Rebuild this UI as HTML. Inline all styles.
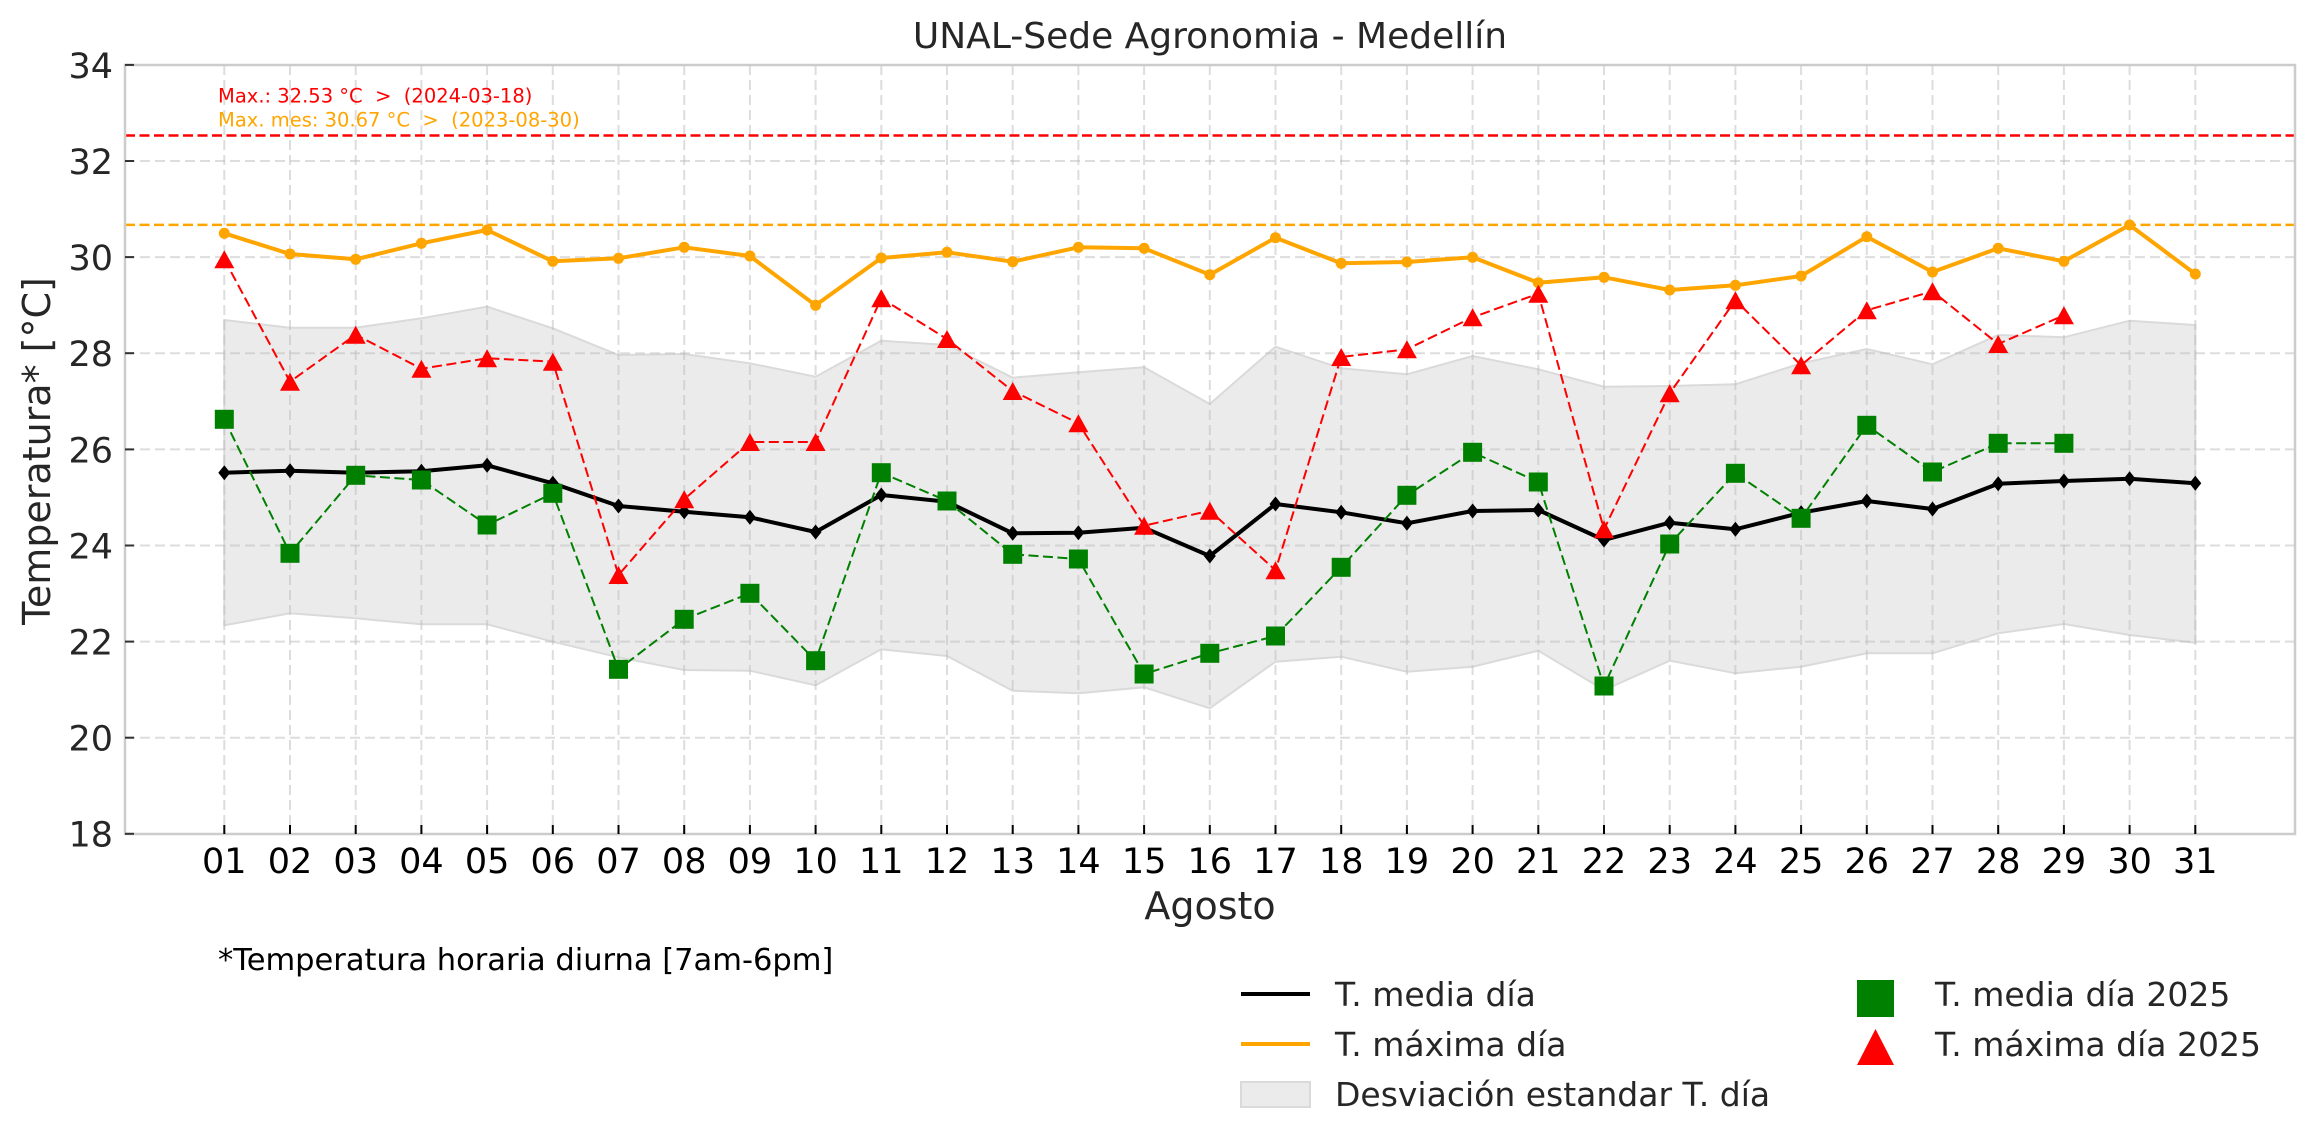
<!DOCTYPE html>
<html>
<head>
<meta charset="utf-8">
<style>
html,body{margin:0;padding:0;background:#fff;}
svg{display:block;}
text{font-family:"DejaVu Sans","Liberation Sans",sans-serif;}
</style>
</head>
<body>
<svg width="2314" height="1146" viewBox="0 0 2314 1146" xmlns="http://www.w3.org/2000/svg">
<defs>
<marker id="mo" markerWidth="14" markerHeight="14" refX="7" refY="7" markerUnits="userSpaceOnUse" overflow="visible"><circle cx="7" cy="7" r="5.5" fill="#ffa500" stroke="none"/></marker>
<marker id="mk" markerWidth="14" markerHeight="15" refX="7" refY="7.5" markerUnits="userSpaceOnUse" overflow="visible"><polygon points="7,0 13,7.5 7,15 1,7.5" fill="#000" stroke="none"/></marker>
<marker id="mr" markerWidth="20" markerHeight="18" refX="10" refY="9" markerUnits="userSpaceOnUse" overflow="visible"><polygon points="10,0 20,18 0,18" fill="#ff0000" stroke="none"/></marker>
<marker id="mg" markerWidth="19" markerHeight="19" refX="9.5" refY="9.5" markerUnits="userSpaceOnUse" overflow="visible"><rect x="0" y="0" width="19" height="19" fill="#008000" stroke="none"/></marker>
</defs>

<rect x="0" y="0" width="2314" height="1146" fill="#fff"/>

<!-- title -->
<text x="1210" y="48" font-size="36" fill="#262626" text-anchor="middle">UNAL-Sede Agronomia - Medellín</text>

<!-- band -->
<polygon fill="#ebebeb" stroke="#dadada" stroke-width="2" points="224.3,320.0 290.0,327.7 355.7,327.7 421.4,318.3 487.1,306.7 552.8,328.3 618.5,355.0 684.2,354.0 749.9,363.3 815.6,376.7 881.3,340.7 947.0,345.0 1012.7,377.7 1078.4,372.3 1144.1,367.3 1209.8,404.0 1275.5,346.7 1341.2,368.3 1406.9,374.3 1472.6,356.0 1538.3,369.3 1604.0,386.7 1669.7,386.0 1735.4,384.3 1801.1,363.3 1866.8,349.0 1932.5,364.3 1998.2,335.0 2063.9,337.3 2129.6,320.7 2195.3,325.0 2195.3,642.7 2129.6,635.0 2063.9,624.0 1998.2,633.3 1932.5,653.3 1866.8,653.3 1801.1,666.7 1735.4,673.3 1669.7,660.7 1604.0,690.0 1538.3,650.7 1472.6,666.7 1406.9,671.7 1341.2,656.7 1275.5,661.7 1209.8,708.3 1144.1,687.3 1078.4,693.3 1012.7,690.7 947.0,656.0 881.3,649.3 815.6,685.3 749.9,670.7 684.2,670.0 618.5,657.3 552.8,641.7 487.1,624.3 421.4,624.3 355.7,618.3 290.0,613.3 224.3,625.3"/>

<!-- grid -->
<g stroke="#bcbcbc" stroke-opacity="0.5" stroke-width="2" stroke-dasharray="10,5" fill="none">
<line x1="125" x2="2295" y1="161.0" y2="161.0"/>
<line x1="125" x2="2295" y1="257.1" y2="257.1"/>
<line x1="125" x2="2295" y1="353.2" y2="353.2"/>
<line x1="125" x2="2295" y1="449.4" y2="449.4"/>
<line x1="125" x2="2295" y1="545.5" y2="545.5"/>
<line x1="125" x2="2295" y1="641.6" y2="641.6"/>
<line x1="125" x2="2295" y1="737.7" y2="737.7"/>
<line y1="65" y2="834" x1="224.3" x2="224.3"/>
<line y1="65" y2="834" x1="290.0" x2="290.0"/>
<line y1="65" y2="834" x1="355.7" x2="355.7"/>
<line y1="65" y2="834" x1="421.4" x2="421.4"/>
<line y1="65" y2="834" x1="487.1" x2="487.1"/>
<line y1="65" y2="834" x1="552.8" x2="552.8"/>
<line y1="65" y2="834" x1="618.5" x2="618.5"/>
<line y1="65" y2="834" x1="684.2" x2="684.2"/>
<line y1="65" y2="834" x1="749.9" x2="749.9"/>
<line y1="65" y2="834" x1="815.6" x2="815.6"/>
<line y1="65" y2="834" x1="881.3" x2="881.3"/>
<line y1="65" y2="834" x1="947.0" x2="947.0"/>
<line y1="65" y2="834" x1="1012.7" x2="1012.7"/>
<line y1="65" y2="834" x1="1078.4" x2="1078.4"/>
<line y1="65" y2="834" x1="1144.1" x2="1144.1"/>
<line y1="65" y2="834" x1="1209.8" x2="1209.8"/>
<line y1="65" y2="834" x1="1275.5" x2="1275.5"/>
<line y1="65" y2="834" x1="1341.2" x2="1341.2"/>
<line y1="65" y2="834" x1="1406.9" x2="1406.9"/>
<line y1="65" y2="834" x1="1472.6" x2="1472.6"/>
<line y1="65" y2="834" x1="1538.3" x2="1538.3"/>
<line y1="65" y2="834" x1="1604.0" x2="1604.0"/>
<line y1="65" y2="834" x1="1669.7" x2="1669.7"/>
<line y1="65" y2="834" x1="1735.4" x2="1735.4"/>
<line y1="65" y2="834" x1="1801.1" x2="1801.1"/>
<line y1="65" y2="834" x1="1866.8" x2="1866.8"/>
<line y1="65" y2="834" x1="1932.5" x2="1932.5"/>
<line y1="65" y2="834" x1="1998.2" x2="1998.2"/>
<line y1="65" y2="834" x1="2063.9" x2="2063.9"/>
<line y1="65" y2="834" x1="2129.6" x2="2129.6"/>
<line y1="65" y2="834" x1="2195.3" x2="2195.3"/>
</g>

<!-- reference lines -->
<line x1="125" x2="2295" y1="135.5" y2="135.5" stroke="#ff0000" stroke-width="2.5" stroke-dasharray="10,4.5"/>
<line x1="125" x2="2295" y1="224.9" y2="224.9" stroke="#ffa500" stroke-width="2.5" stroke-dasharray="10,4.5"/>

<!-- annotations -->
<text x="218" y="102.5" font-size="19.5" fill="#ff0000" style="white-space:pre" xml:space="preserve">Max.: 32.53 °C  &gt;  (2024-03-18)</text>
<text x="218" y="126.5" font-size="19.5" fill="#ffa500" style="white-space:pre" xml:space="preserve">Max. mes: 30.67 °C  &gt;  (2023-08-30)</text>

<!-- series -->
<polyline fill="none" stroke="#000" stroke-width="4" stroke-linejoin="round" marker-start="url(#mk)" marker-mid="url(#mk)" marker-end="url(#mk)" points="224.3,472.7 290.0,470.7 355.7,472.7 421.4,471.3 487.1,465.3 552.8,483.3 618.5,506.0 684.2,511.7 749.9,517.3 815.6,532.0 881.3,495.0 947.0,501.7 1012.7,533.3 1078.4,532.7 1144.1,527.7 1209.8,556.0 1275.5,504.0 1341.2,512.3 1406.9,523.3 1472.6,511.0 1538.3,510.0 1604.0,540.0 1669.7,522.7 1735.4,529.3 1801.1,512.7 1866.8,501.0 1932.5,509.0 1998.2,483.7 2063.9,481.0 2129.6,478.7 2195.3,483.3"/>
<polyline fill="none" stroke="#ffa500" stroke-width="4" stroke-linejoin="round" marker-start="url(#mo)" marker-mid="url(#mo)" marker-end="url(#mo)" points="224.3,233.3 290.0,254.0 355.7,259.3 421.4,243.3 487.1,230.0 552.8,261.3 618.5,258.3 684.2,247.3 749.9,256.0 815.6,305.3 881.3,258.0 947.0,252.3 1012.7,261.7 1078.4,247.3 1144.1,248.3 1209.8,274.7 1275.5,237.7 1341.2,263.3 1406.9,262.0 1472.6,257.3 1538.3,282.7 1604.0,277.3 1669.7,290.0 1735.4,285.3 1801.1,276.0 1866.8,236.7 1932.5,272.0 1998.2,248.3 2063.9,261.3 2129.6,225.0 2195.3,274.0"/>
<polyline fill="none" stroke="#ff0000" stroke-width="2" stroke-dasharray="10,4.5" marker-start="url(#mr)" marker-mid="url(#mr)" marker-end="url(#mr)" points="224.3,259.3 290.0,381.7 355.7,334.7 421.4,368.7 487.1,358.3 552.8,361.7 618.5,575.0 684.2,499.3 749.9,442.0 815.6,442.0 881.3,298.3 947.0,339.0 1012.7,391.0 1078.4,423.3 1144.1,525.7 1209.8,510.7 1275.5,570.3 1341.2,357.0 1406.9,349.3 1472.6,317.3 1538.3,293.7 1604.0,529.3 1669.7,393.3 1735.4,300.3 1801.1,365.3 1866.8,310.3 1932.5,291.3 1998.2,344.0 2063.9,315.3"/>
<polyline fill="none" stroke="#008000" stroke-width="2" stroke-dasharray="10,4.5" marker-start="url(#mg)" marker-mid="url(#mg)" marker-end="url(#mg)" points="224.3,419.3 290.0,553.3 355.7,475.3 421.4,480.0 487.1,525.0 552.8,493.3 618.5,669.3 684.2,619.3 749.9,593.3 815.6,660.7 881.3,472.7 947.0,501.0 1012.7,554.3 1078.4,559.0 1144.1,674.0 1209.8,653.3 1275.5,636.0 1341.2,567.3 1406.9,495.3 1472.6,452.3 1538.3,482.0 1604.0,686.0 1669.7,544.0 1735.4,473.3 1801.1,518.3 1866.8,425.3 1932.5,472.0 1998.2,443.3 2063.9,443.3"/>

<!-- axes frame -->
<rect x="125" y="65" width="2170" height="769" fill="none" stroke="#cccccc" stroke-width="2.5"/>

<!-- y ticks -->
<g stroke="#333" stroke-width="2">
<line x1="125" x2="134" y1="64.9" y2="64.9"/>
<line x1="125" x2="134" y1="161.0" y2="161.0"/>
<line x1="125" x2="134" y1="257.1" y2="257.1"/>
<line x1="125" x2="134" y1="353.2" y2="353.2"/>
<line x1="125" x2="134" y1="449.4" y2="449.4"/>
<line x1="125" x2="134" y1="545.5" y2="545.5"/>
<line x1="125" x2="134" y1="641.6" y2="641.6"/>
<line x1="125" x2="134" y1="737.7" y2="737.7"/>
<line x1="125" x2="134" y1="833.8" y2="833.8"/>
</g>
<g font-size="35" fill="#262626" text-anchor="end">
<text x="113" y="77.8">34</text>
<text x="113" y="173.9">32</text>
<text x="113" y="270.0">30</text>
<text x="113" y="366.1">28</text>
<text x="113" y="462.3">26</text>
<text x="113" y="558.4">24</text>
<text x="113" y="654.5">22</text>
<text x="113" y="750.6">20</text>
<text x="113" y="846.7">18</text>
</g>

<!-- x ticks -->
<g stroke="#000" stroke-width="2">
<line y1="825" y2="834" x1="224.3" x2="224.3"/><line y1="825" y2="834" x1="290.0" x2="290.0"/><line y1="825" y2="834" x1="355.7" x2="355.7"/><line y1="825" y2="834" x1="421.4" x2="421.4"/><line y1="825" y2="834" x1="487.1" x2="487.1"/><line y1="825" y2="834" x1="552.8" x2="552.8"/><line y1="825" y2="834" x1="618.5" x2="618.5"/><line y1="825" y2="834" x1="684.2" x2="684.2"/><line y1="825" y2="834" x1="749.9" x2="749.9"/><line y1="825" y2="834" x1="815.6" x2="815.6"/><line y1="825" y2="834" x1="881.3" x2="881.3"/><line y1="825" y2="834" x1="947.0" x2="947.0"/><line y1="825" y2="834" x1="1012.7" x2="1012.7"/><line y1="825" y2="834" x1="1078.4" x2="1078.4"/><line y1="825" y2="834" x1="1144.1" x2="1144.1"/><line y1="825" y2="834" x1="1209.8" x2="1209.8"/><line y1="825" y2="834" x1="1275.5" x2="1275.5"/><line y1="825" y2="834" x1="1341.2" x2="1341.2"/><line y1="825" y2="834" x1="1406.9" x2="1406.9"/><line y1="825" y2="834" x1="1472.6" x2="1472.6"/><line y1="825" y2="834" x1="1538.3" x2="1538.3"/><line y1="825" y2="834" x1="1604.0" x2="1604.0"/><line y1="825" y2="834" x1="1669.7" x2="1669.7"/><line y1="825" y2="834" x1="1735.4" x2="1735.4"/><line y1="825" y2="834" x1="1801.1" x2="1801.1"/><line y1="825" y2="834" x1="1866.8" x2="1866.8"/><line y1="825" y2="834" x1="1932.5" x2="1932.5"/><line y1="825" y2="834" x1="1998.2" x2="1998.2"/><line y1="825" y2="834" x1="2063.9" x2="2063.9"/><line y1="825" y2="834" x1="2129.6" x2="2129.6"/><line y1="825" y2="834" x1="2195.3" x2="2195.3"/>
</g>
<g font-size="35" fill="#000" text-anchor="middle">
<text x="224.3" y="873">01</text><text x="290.0" y="873">02</text><text x="355.7" y="873">03</text><text x="421.4" y="873">04</text><text x="487.1" y="873">05</text><text x="552.8" y="873">06</text><text x="618.5" y="873">07</text><text x="684.2" y="873">08</text><text x="749.9" y="873">09</text><text x="815.6" y="873">10</text><text x="881.3" y="873">11</text><text x="947.0" y="873">12</text><text x="1012.7" y="873">13</text><text x="1078.4" y="873">14</text><text x="1144.1" y="873">15</text><text x="1209.8" y="873">16</text><text x="1275.5" y="873">17</text><text x="1341.2" y="873">18</text><text x="1406.9" y="873">19</text><text x="1472.6" y="873">20</text><text x="1538.3" y="873">21</text><text x="1604.0" y="873">22</text><text x="1669.7" y="873">23</text><text x="1735.4" y="873">24</text><text x="1801.1" y="873">25</text><text x="1866.8" y="873">26</text><text x="1932.5" y="873">27</text><text x="1998.2" y="873">28</text><text x="2063.9" y="873">29</text><text x="2129.6" y="873">30</text><text x="2195.3" y="873">31</text>
</g>

<!-- axis labels -->
<text x="1210" y="919" font-size="38" fill="#262626" text-anchor="middle">Agosto</text>
<text x="50" y="451" font-size="38" fill="#262626" text-anchor="middle" transform="rotate(-90 50 451)">Temperatura* [°C]</text>

<!-- footnote -->
<text x="218" y="970" font-size="30.5" fill="#000">*Temperatura horaria diurna [7am-6pm]</text>

<!-- legend -->
<line x1="1241" x2="1310" y1="994" y2="994" stroke="#000" stroke-width="4"/>
<line x1="1241" x2="1310" y1="1044" y2="1044" stroke="#ffa500" stroke-width="4"/>
<rect x="1241" y="1082" width="69" height="25" fill="#ebebeb" stroke="#dadada" stroke-width="2"/>
<rect x="1857" y="980" width="37" height="37" fill="#008000"/>
<polygon points="1875.5,1029 1894,1065 1857,1065" fill="#ff0000"/>
<g font-size="33" fill="#262626">
<text x="1335" y="1006">T. media día</text>
<text x="1335" y="1056">T. máxima día</text>
<text x="1335" y="1106">Desviación estandar T. día</text>
<text x="1935" y="1006">T. media día 2025</text>
<text x="1935" y="1056">T. máxima día 2025</text>
</g>
</svg>
</body>
</html>
